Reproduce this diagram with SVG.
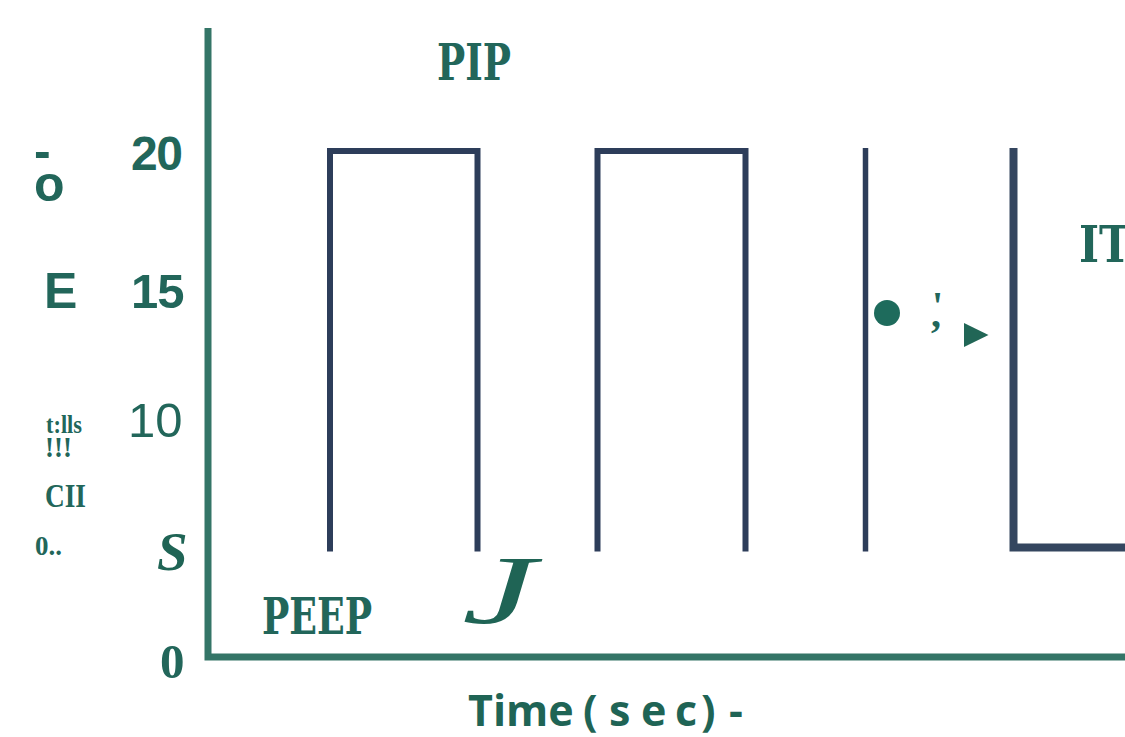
<svg xmlns="http://www.w3.org/2000/svg" width="1125" height="737" viewBox="0 0 1125 737">
<style>
.ax{fill:none;stroke:#347567;stroke-width:7;stroke-linejoin:miter}
.pl{fill:none;stroke:#2d3d5a;stroke-width:6;stroke-linejoin:miter}
.sb{font-family:"Liberation Sans",Arial,sans-serif;font-weight:bold;fill:#22665a}
.sr{font-family:"Liberation Sans",Arial,sans-serif;font-weight:normal;fill:#22665a}
.se{font-family:"Liberation Serif","Times New Roman",serif;font-weight:bold;fill:#22665a}
.si{font-family:"Liberation Serif","Times New Roman",serif;font-weight:bold;font-style:italic;fill:#1f6455}
.ji{font-family:"Liberation Serif","Times New Roman",serif;font-weight:normal;font-style:italic;fill:#1f6455}
.mo{font-family:"DejaVu Serif Condensed","DejaVu Serif",serif;font-weight:bold;fill:#22665a}
.os{font-family:"Open Sans","Liberation Sans",sans-serif;font-weight:bold;fill:#1f6455}
</style>
<rect width="1125" height="737" fill="#ffffff"/>
<g id="connectors">
  <path class="ax" d="M208,28 V657 H1125"/>
  <path class="pl" d="M330,551.5 V151 H477.5 V551.5"/>
  <path class="pl" d="M597.5,551.5 V151 H745.5 V551.5"/>
  <path class="pl" d="M865.5,148 V551.5" style="stroke-width:5.5"/>
  <path class="pl" d="M1013.5,148 V547.5 H1125" style="stroke-width:8;stroke:#34465f"/>
</g>
<g id="y-ticks">
  <text class="sb" x="131" y="170" font-size="48" letter-spacing="-1.5">20</text>
  <text class="sb" x="131" y="308" font-size="49" letter-spacing="-1">15</text>
  <text class="sr" x="128" y="437" font-size="49">10</text>
  <text class="si" x="157" y="570" font-size="55">S</text>
  <text class="se" x="160" y="678" font-size="49">0</text>
</g>
<g id="y-label">
  <text class="sb" x="34" y="168" font-size="50">-</text>
  <text class="sb" x="34" y="201" font-size="50">o</text>
  <text class="sb" x="44" y="308" font-size="50">E</text>
  <text class="se" x="46" y="433" font-size="25" textLength="36" lengthAdjust="spacingAndGlyphs">t:lls</text>
  <text class="se" x="45" y="457" font-size="30" textLength="27" lengthAdjust="spacingAndGlyphs">!!!</text>
  <text class="se" x="45" y="507" font-size="33" textLength="41" lengthAdjust="spacingAndGlyphs">CII</text>
  <text class="se" x="35" y="555" font-size="27">0..</text>
</g>
<g id="pip-label">
  <text class="mo" x="437" y="80" font-size="51" textLength="74" lengthAdjust="spacingAndGlyphs">PIP</text>
</g>
<g id="peep-label">
  <text class="mo" x="262" y="634" font-size="51" textLength="110" lengthAdjust="spacingAndGlyphs">PEEP</text>
</g>
<g id="it-label">
  <text class="mo" x="1079" y="262" font-size="51" textLength="52" lengthAdjust="spacingAndGlyphs">IT</text>
</g>
<g id="j-mark">
  <text class="ji" x="0" y="0" font-size="98" transform="translate(462,623) scale(1.7,1)">J</text>
</g>
<g id="marks">
  <circle cx="887" cy="313" r="13" fill="#1e6b5c"/>
  <text class="se" x="932" y="319" font-size="40">'</text>
  <text class="se" x="931" y="327" font-size="40">,</text>
  <polygon points="964,323 988.5,335 964,347" fill="#216656"/>
</g>
<g id="x-label">
  <text class="os" y="726" font-size="43"><tspan x="468">Time</tspan><tspan x="583">(</tspan><tspan x="609">s</tspan><tspan x="641">e</tspan><tspan x="675">c</tspan><tspan x="701">)</tspan><tspan x="729">-</tspan></text>
</g>
</svg>
